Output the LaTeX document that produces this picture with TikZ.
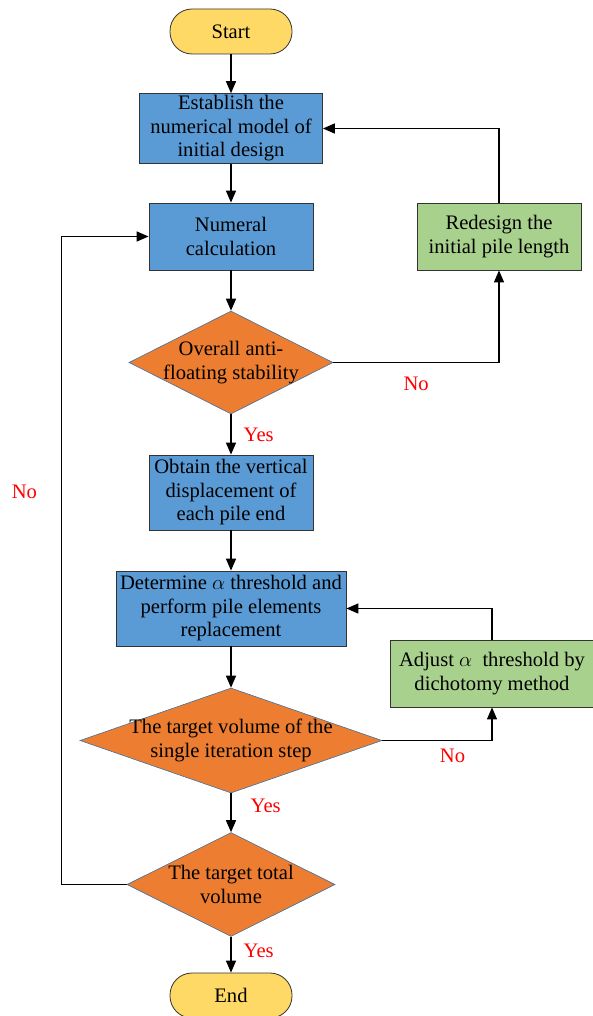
\documentclass[tikz,border=0pt]{standalone}
\usepackage{fontspec}
\setmainfont{Liberation Serif}
\usepackage{xcolor}
\usepackage{tikz}
\usetikzlibrary{shapes,arrows.meta}
\usetikzlibrary{positioning}
\definecolor{termfill}{HTML}{FFD966}
\definecolor{procfill}{HTML}{5B9BD5}
\definecolor{redofill}{HTML}{A9D18E}
\definecolor{decfill}{HTML}{ED7D31}
\definecolor{decdraw}{HTML}{41719C}
\tikzstyle{terminal} = [rectangle, draw=black!80, fill=termfill,
    rounded corners=22pt, minimum width=122pt, minimum height=45pt, line width=0.8pt]
\tikzstyle{block} = [rectangle, draw=black!80, fill=procfill,
    align=center, minimum height=67pt, inner sep=2pt, line width=0.8pt]
\tikzstyle{redo} = [block, fill=redofill]
\tikzstyle{decision} = [diamond, draw=decdraw, fill=decfill,
    align=center, inner sep=-6pt, line width=0.6pt]
\tikzstyle{line} = [draw, line width=1.4pt, -{Triangle[length=12pt,width=10pt]}]
\tikzstyle{answer} = [text=red, inner sep=0pt]

\begin{document}
\begin{tikzpicture}[node distance = 100pt, font=\fontsize{20.6}{23.5}\selectfont]
  \useasboundingbox (0,0) rectangle (592pt,-1016pt);
  % Place nodes
  \node [terminal] (start) at (231pt,-31.5pt) {Start};
  \node [block, below of=start, node distance=97pt, minimum width=183pt] (establish) {Establish the\\ numerical model of\\ initial design};
  \node [block, below of=establish, node distance=108pt, minimum width=164pt] (calc) {Numeral\\ calculation};
  \node [redo, right of=calc, node distance=268pt, minimum width=164pt] (redesign) {Redesign the\\ initial pile length};
  \node [decision, below of=calc, node distance=126pt, aspect=1.98, minimum width=204pt, minimum height=103pt] (stable) {Overall anti-\\ floating stability};
  \node [block, below of=stable, node distance=130pt, minimum width=164pt, minimum height=75pt] (obtain) {Obtain the vertical\\ displacement of\\ each pile end};
  \node [block, below of=obtain, node distance=116pt, minimum width=230pt, minimum height=75pt] (determine) {Determine $\alpha$ threshold and\\ perform pile elements\\ replacement};
  \node [redo, right of=determine, node distance=261pt, yshift=-65pt, minimum width=204pt] (adjust) {Adjust $\alpha$\ \ threshold by\\ dichotomy method};
  \node [decision, below of=determine, node distance=132pt, aspect=2.88, minimum width=302pt, minimum height=105pt] (single) {The target volume of the\\ single iteration step};
  \node [decision, below of=single, node distance=144pt, aspect=2, minimum width=208pt, minimum height=104pt] (total) {The target total\\ volume};
  \node [terminal, below of=total, node distance=111pt] (end) {End};

  % Draw edges
  \path [line] (start) -- (establish);
  \path [line] (establish) -- (calc);
  \path [line] (calc) -- (stable);
  \path [line] (stable) -- node [answer, right=12pt] {Yes} (obtain);
  \path [line] (obtain) -- (determine);
  \path [line] (determine) -- (single);
  \path [line] (single) -- node [answer, right=19pt, pos=.33] {Yes} (total);
  \path [line] (total) -- node [answer, right=12pt, pos=.4] {Yes} (end);
  \path [line] (stable) -| node [answer, below=14pt, pos=.25] {No} (redesign);
  \path [line] (redesign) |- (establish);
  \path [line] (single) -| node [answer, below=8pt, pos=.32] {No} (adjust);
  \path [line] (adjust) |- (determine);
  \path [line] (total.west) -- ++(-65pt,0) |- node [answer, left=24pt, pos=.303] {No} (calc.west);
\end{tikzpicture}
\end{document}
